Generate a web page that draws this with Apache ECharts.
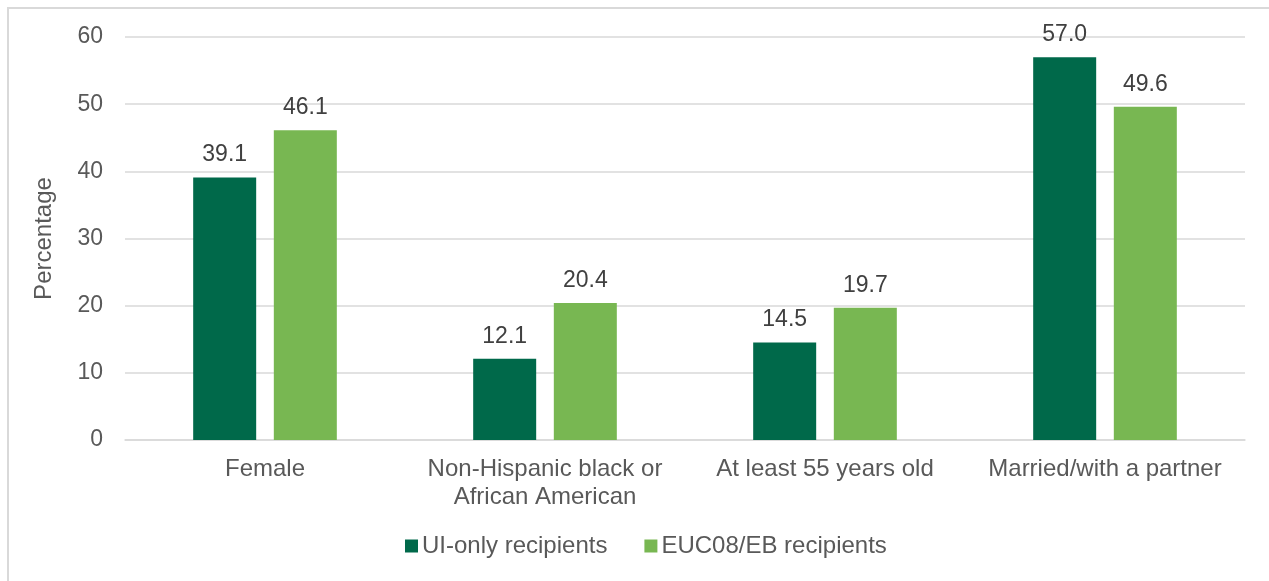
<!DOCTYPE html>
<html>
<head>
<meta charset="utf-8">
<script src="https://cdn.jsdelivr.net/npm/echarts@6/dist/echarts.min.js"></script>
<style>
  html, body { margin: 0; padding: 0; background: #fff; }
  #frame { position: absolute; left: 7px; top: 7px; width: 1300px; height: 600px;
           border-left: 2px solid #d9d9d9; border-top: 2px solid #d9d9d9; }
  #chart { position: absolute; left: 0; top: 0; width: 1269px; height: 581px; }
</style>
</head>
<body>
<div id="frame"></div>
<div id="chart"></div>
<script>
const categories = ['Female', 'Non-Hispanic black or\nAfrican American', 'At least 55 years old', 'Married/with a partner'];
const seriesNames = ['UI-only recipients', 'EUC08/EB recipients'];
const uiOnly = [39.1, 12.1, 14.5, 57.0];
const eucEb = [46.1, 20.4, 19.7, 49.6];
const yTicks = { min: 0, max: 60, interval: 10 };

const font = 'Liberation Sans, Arial, sans-serif';
const fs = 23;
const fsText = 24;
const chart = echarts.init(document.getElementById('chart'));
const labelCfg = {
  show: true, position: 'top', distance: 11,
  color: '#404040', fontSize: fs, fontFamily: font,
  formatter: p => p.value.toFixed(1)
};
chart.setOption({
  backgroundColor: 'transparent',
  animation: false,
  grid: { left: 125, right: 24, top: 37, bottom: 141 },
  legend: {
    data: seriesNames, bottom: 18, left: 400,
    itemWidth: 13, itemHeight: 13, itemGap: 37, icon: 'rect',
    textStyle: { color: '#595959', fontSize: fsText, fontFamily: font, padding: [0, 0, 0, -1] }
  },
  xAxis: {
    type: 'category', data: categories,
    axisLine: { lineStyle: { color: '#d9d9d9', width: 1.5 } },
    axisTick: { show: false },
    axisLabel: { color: '#595959', fontSize: fsText, fontFamily: font, margin: 15, lineHeight: 28, interval: 0 }
  },
  yAxis: {
    type: 'value', min: yTicks.min, max: yTicks.max, interval: yTicks.interval,
    name: 'Percentage', nameLocation: 'middle', nameGap: 69,
    nameTextStyle: { color: '#595959', fontSize: fsText, fontFamily: font },
    axisLabel: { color: '#595959', fontSize: fs, fontFamily: font, margin: 22 },
    splitLine: { lineStyle: { color: '#d9d9d9', width: 1.5 } },
    axisLine: { show: false }, axisTick: { show: false }
  },
  series: [
    { name: seriesNames[0], type: 'bar', data: uiOnly, itemStyle: { color: '#00694a' },
      barWidth: '22.5%', barGap: '28%', label: labelCfg },
    { name: seriesNames[1], type: 'bar', data: eucEb, itemStyle: { color: '#78b752' },
      barWidth: '22.5%', label: labelCfg }
  ]
});
</script>
</body>
</html>
